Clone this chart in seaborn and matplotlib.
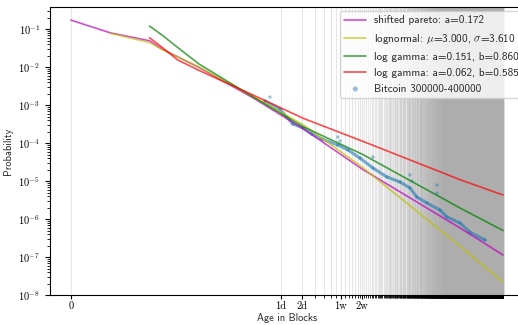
import numpy as np
import matplotlib
matplotlib.use('Agg')
import matplotlib.pyplot as plt
import seaborn as sns

# Fitted distributions, values (age in blocks -> probability)
pareto_age = [0, 1, 2, 3, 10, 60, 300, 2000, 50000, 196000]
pareto_prob = [0.175, 0.081, 0.050, 0.0303, 9.9e-3, 1.51e-3, 2.38e-4, 2.11e-5, 5.7e-7, 1.15e-7]

lognorm_age = [1, 2, 3, 10, 60, 300, 2000, 50000, 196000]
lognorm_prob = [0.0785, 0.045, 0.0294, 0.0102, 1.65e-3, 3.03e-4, 2.38e-5, 1.87e-7, 2.24e-8]

gamma1_age = [2, 3, 5, 10, 60, 300, 2000, 50000, 196000]
gamma1_prob = [0.122, 0.0708, 0.0332, 0.0122, 1.60e-3, 2.69e-4, 5.2e-5, 1.92e-6, 5.07e-7]

gamma2_age = [2, 3, 5, 10, 27, 60, 300, 2000, 50000, 196000]
gamma2_prob = [0.060, 0.0336, 0.0156, 8.3e-3, 3.55e-3, 1.81e-3, 4.5e-4, 1.15e-4, 1.08e-5, 4.36e-6]

# Bitcoin blocks 300000-400000: main trail and the scattered spikes
btc_age = [85, 138, 211, 294, 392, 542, 912, 1264, 1867, 2850, 4500, 6860,
           9500, 11900, 16500, 25200, 31600, 48300, 66900, 109000]
btc_prob = [1.30e-3, 8.0e-4, 3.22e-4, 2.53e-4, 1.76e-4, 1.30e-4, 9.0e-5, 6.7e-5, 4.1e-5,
            2.24e-5, 1.30e-5, 9.6e-6, 6.7e-6, 3.86e-6, 2.69e-6, 1.76e-6, 1.15e-6,
            8.0e-7, 4.6e-7, 2.85e-7]
spike_age = [100, 912, 975, 2850, 9500, 10100, 22900, 22900]
spike_prob = [1.65e-3, 1.47e-4, 1.15e-4, 4.35e-5, 1.47e-5, 1.02e-5, 8.0e-6, 4.9e-6]

tick_blocks = [0, 144, 288, 1008, 2016]
tick_labels = ['0', '1d', '2d', '1w', '2w']
blocks_per_day = 144
n_days = 1361

labels = ['shifted pareto: a=0.172',
          r'lognormal: $\mu$=3.000, $\sigma$=3.610',
          'log gamma: a=0.151, b=0.860',
          'log gamma: a=0.062, b=0.585',
          'Bitcoin 300000-400000']

sns.set_style('ticks')
plt.rcParams['font.family'] = ['cmr10', 'DejaVu Serif']
plt.rcParams['mathtext.fontset'] = 'cm'
plt.rcParams['axes.formatter.use_mathtext'] = True
plt.rcParams['axes.unicode_minus'] = False

fig = plt.figure(figsize=(5.18, 3.25), dpi=100)
ax = fig.add_axes([50 / 518, 29.7 / 325, 475 / 518, 288.3 / 325])

# empirical data first so the fits sit on top
sns.lineplot(x=btc_age, y=btc_prob, color='tab:blue', alpha=0.6, lw=2.2, ax=ax)
sns.scatterplot(x=btc_age + spike_age, y=btc_prob + spike_prob, color='tab:blue',
                s=6, alpha=0.45, edgecolor='none', label=labels[4], ax=ax)

sns.lineplot(x=pareto_age, y=pareto_prob, color='m', alpha=0.7, lw=1.2, label=labels[0], ax=ax)
sns.lineplot(x=lognorm_age, y=lognorm_prob, color='y', alpha=0.7, lw=1.2, label=labels[1], ax=ax)
sns.lineplot(x=gamma1_age, y=gamma1_prob, color='g', alpha=0.7, lw=1.2, label=labels[2], ax=ax)
sns.lineplot(x=gamma2_age, y=gamma2_prob, color='r', alpha=0.7, lw=1.2, label=labels[3], ax=ax)

ax.set_xscale('symlog', linthresh=2)
ax.set_yscale('log')
ax.set_xlim(-0.53, 4e5)
ax.set_ylim(1e-8, 0.387)

# one grid line (and minor tick) per day of blocks
day_blocks = blocks_per_day * np.arange(1, n_days + 1)
ax.set_xticks(tick_blocks)
ax.set_xticklabels(tick_labels)
ax.set_xticks(day_blocks, minor=True)
ax.xaxis.set_minor_formatter(matplotlib.ticker.NullFormatter())
ax.grid(True, axis='x', which='both', color='0.68', alpha=0.3, lw=0.8)
ax.set_axisbelow(True)

ax.tick_params(which='major', length=3.5, width=0.8, labelsize=7.5, colors='black')
ax.tick_params(which='minor', length=2, width=0.6, colors='black')
ax.tick_params(axis='x', which='major', length=3, pad=1.5)
for s in ax.spines.values():
    s.set_color('black')
    s.set_linewidth(0.8)

ax.set_xlabel('Age in Blocks', family='cmss10', fontsize=7.5, labelpad=1.5)
ax.set_ylabel('Probability', family='cmss10', fontsize=7.5)

handles, labs = ax.get_legend_handles_labels()
order = [labs.index(l) for l in labels]
ax.legend([handles[i] for i in order], [labs[i] for i in order],
          loc='upper left', bbox_to_anchor=(0.61, 0.986), borderaxespad=0,
          prop={'family': 'cmss10', 'size': 8.0}, markerscale=1.5,
          handletextpad=0.7, labelspacing=0.55)

plt.savefig('out.png', dpi=100)
